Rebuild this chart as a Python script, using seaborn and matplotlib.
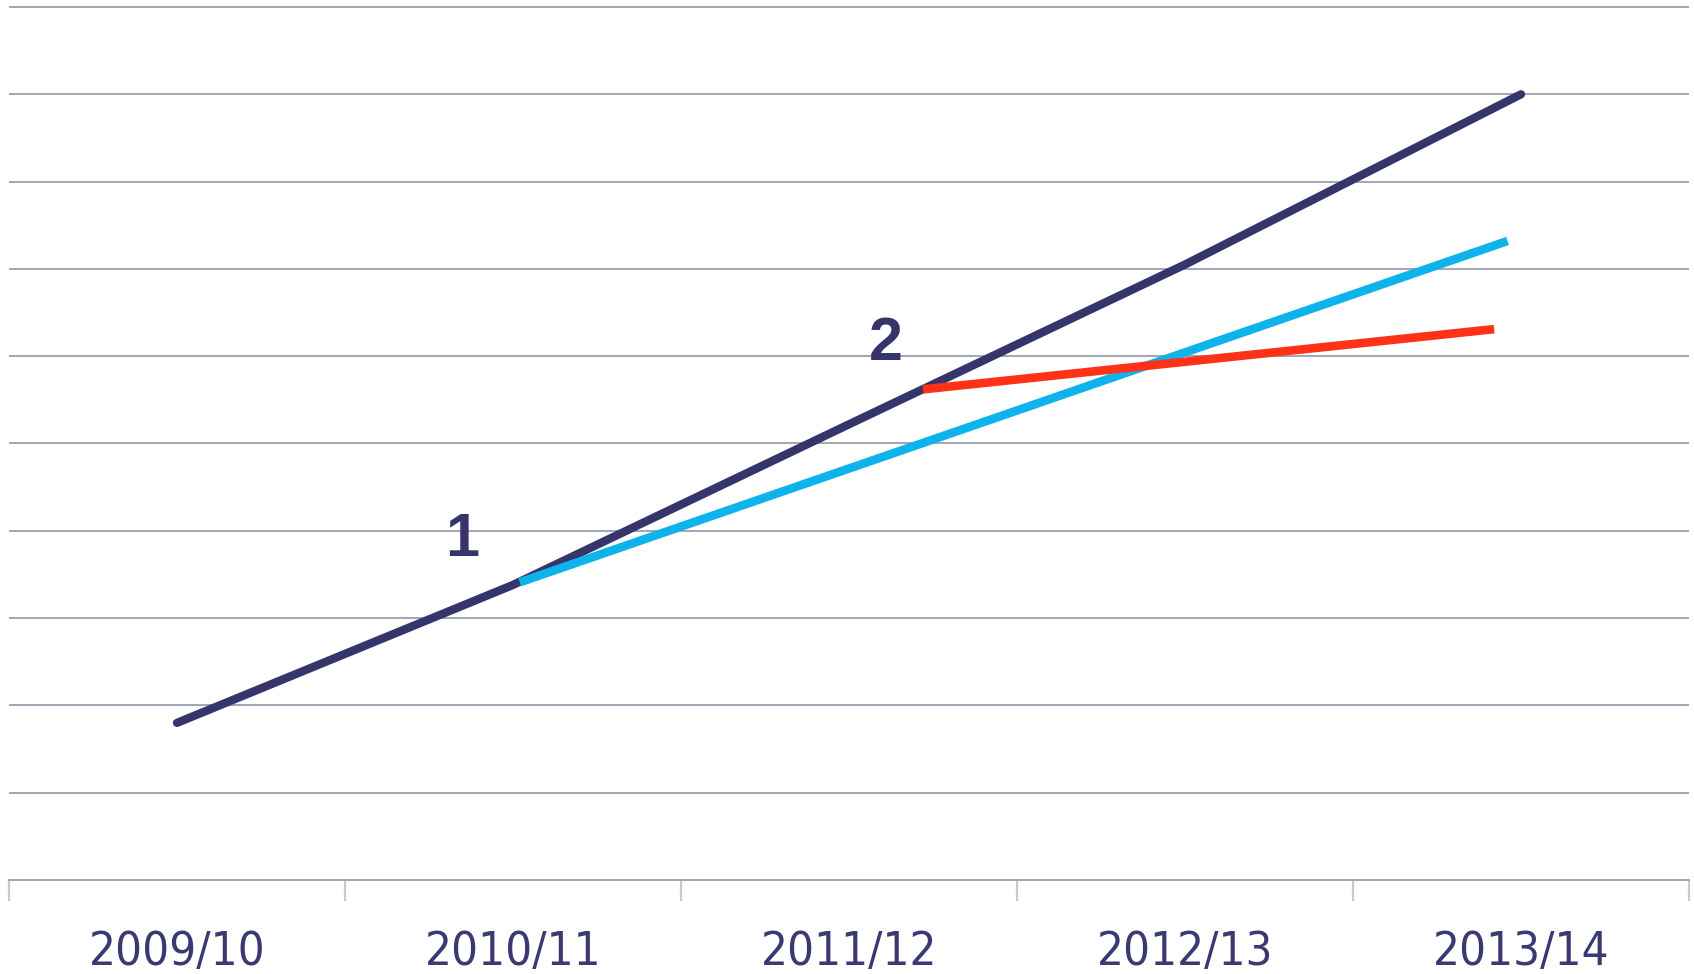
import matplotlib
matplotlib.use("Agg")
import matplotlib.pyplot as plt
from matplotlib import font_manager
from matplotlib.font_manager import FontProperties
import seaborn as sns
import pandas as pd

# ---- data ----
categories = ["2009/10", "2010/11", "2011/12", "2012/13", "2013/14"]

navy_x = [0.0, 1.0, 2.0, 3.0, 4.0]
navy_y = [1.80, 3.38, 5.22, 7.05, 9.00]

cyan_x = [1.02, 3.96]
cyan_y = [3.41, 7.32]

red_x = [2.22, 3.92]
red_y = [5.62, 6.31]

ann_labels = ["1", "2"]
ann_x = [0.85, 2.11]
ann_y = [3.89, 6.13]

grid_values = list(range(0, 11))

# ---- style ----
sns.set_theme(style="white")
plt.rcParams["font.family"] = ["Liberation Sans", "DejaVu Sans"]

# look for a condensed / narrow regular font for the tick labels
cands = []
for f in font_manager.fontManager.ttflist:
    nm = f.name
    st = str(f.stretch)
    w = f.weight if isinstance(f.weight, int) else 400
    if f.style != "normal":
        continue
    if ("Narrow" in nm or "Condensed" in nm or st in ("condensed", "semi-condensed")) and w <= 400:
        cands.append((abs(w - 400), f.fname))
cands.sort()
if cands:
    tick_fp = FontProperties(fname=cands[0][1], size=34)
else:
    tick_fp = FontProperties(family="DejaVu Sans", size=30)

NAVY = "#35356b"
CYAN = "#0db3ea"
RED = "#ff3218"
GRID = "#a4a4b8"
TICK = "#c9c9d3"
TEXT = "#3a3a72"

fig = plt.figure(figsize=(16.94, 9.74), dpi=100)
ax = fig.add_axes([9 / 1694, (974 - 880) / 974, (1689 - 9) / 1694, (880 - 4) / 974])

navy_df = pd.DataFrame({"x": navy_x, "y": navy_y})
cyan_df = pd.DataFrame({"x": cyan_x, "y": cyan_y})
red_df = pd.DataFrame({"x": red_x, "y": red_y})

# horizontal gridlines
for g in grid_values[1:]:
    ax.axhline(g, color=GRID, lw=1.4, zorder=0)

def draw(df, color, width, cap, z):
    n0 = len(ax.lines)
    sns.lineplot(data=df, x="x", y="y", ax=ax, color=color, linewidth=width,
                 sort=False, zorder=z)
    for ln in ax.lines[n0:]:
        ln.set_linewidth(width)
        ln.set_solid_capstyle(cap)
        ln.set_solid_joinstyle("round")
        ln.set_zorder(z)

draw(navy_df, NAVY, 6.0, "round", 1)
draw(cyan_df, CYAN, 6.2, "butt", 2)
draw(red_df, RED, 6.2, "butt", 3)

for lab, x, y in zip(ann_labels, ann_x, ann_y):
    ax.text(x, y, lab, ha="center", va="center", fontsize=44,
            fontweight="bold", color=NAVY)

ax.set_xlim(-0.5, len(categories) - 0.5)
ax.set_ylim(0, 10 + 3 / 87.3)

# major ticks at category boundaries (marks only), minor at centres (labels only)
ax.set_xticks([i - 0.5 for i in range(len(categories) + 1)])
ax.set_xticklabels([])
ax.set_xticks(list(range(len(categories))), minor=True)
ax.set_xticklabels(categories, minor=True, color=TEXT, fontproperties=tick_fp)
ax.tick_params(axis="x", which="major", length=15, width=1.6, color=TICK,
               direction="out", bottom=True)
ax.tick_params(axis="x", which="minor", length=0, pad=36)
ax.set_yticks([])
ax.set_xlabel("")
ax.set_ylabel("")

for s in ["top", "left", "right"]:
    ax.spines[s].set_visible(False)
ax.spines["bottom"].set_color(GRID)
ax.spines["bottom"].set_linewidth(1.4)

fig.savefig("out.png", dpi=100, facecolor="white")
